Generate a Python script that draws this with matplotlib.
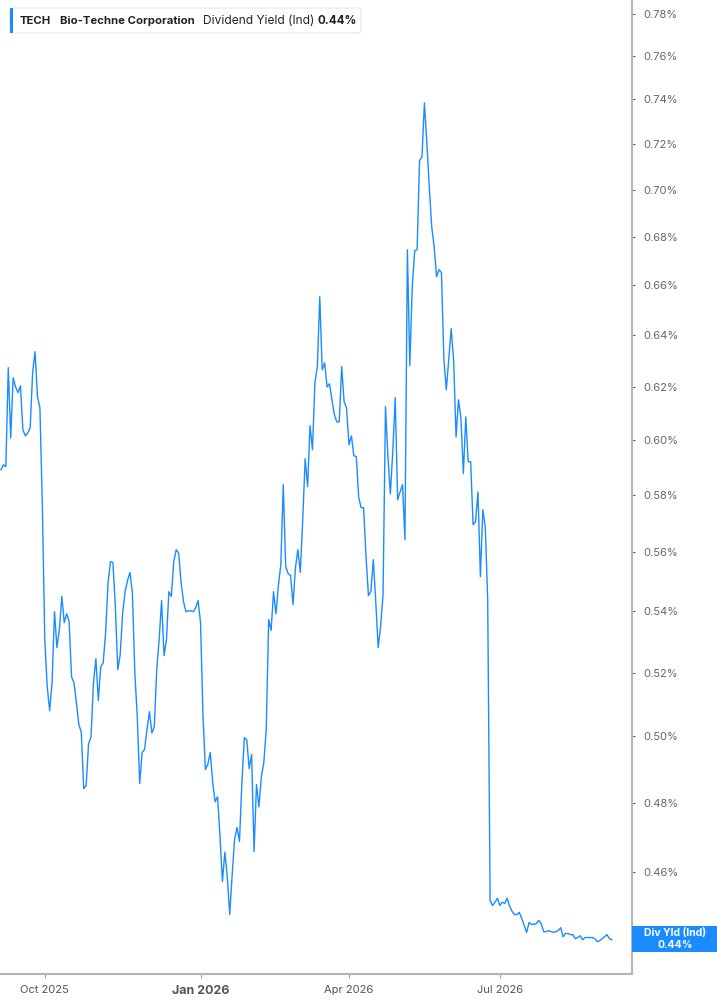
import numpy as np
import matplotlib.pyplot as plt
from matplotlib.patches import FancyBboxPatch, Rectangle

plt.rcParams['font.family'] = ['Inter', 'DejaVu Sans']

# dividend yield (%), one value per trading session, early Sep 2025 -> early Sep 2026
div_yield = [
    0.5892, 0.5910, 0.5903, 0.6274, 0.6009, 0.6235, 0.6200, 0.6178, 0.6204, 0.6039,
    0.6016, 0.6027, 0.6046, 0.6254, 0.6336, 0.6163, 0.6121, 0.5766, 0.5307, 0.5156,
    0.5080, 0.5168, 0.5399, 0.5281, 0.5340, 0.5450, 0.5363, 0.5392, 0.5366, 0.5187,
    0.5168, 0.5105, 0.5036, 0.5014, 0.4842, 0.4851, 0.4978, 0.4999, 0.5168, 0.5245,
    0.5112, 0.5219, 0.5232, 0.5330, 0.5497, 0.5568, 0.5565, 0.5416, 0.5210, 0.5259,
    0.5395, 0.5466, 0.5504, 0.5531, 0.5463, 0.5200, 0.5062, 0.4857, 0.4951, 0.4960,
    0.5021, 0.5077, 0.5011, 0.5030, 0.5210, 0.5307, 0.5436, 0.5255, 0.5307, 0.5466,
    0.5450, 0.5568, 0.5609, 0.5598, 0.5497, 0.5433, 0.5399, 0.5402, 0.5402, 0.5399,
    0.5412, 0.5436, 0.5363, 0.5068, 0.4899, 0.4915, 0.4951, 0.4860, 0.4803, 0.4818,
    0.4702, 0.4573, 0.4656, 0.4586, 0.4481, 0.4592, 0.4693, 0.4728, 0.4687, 0.4860,
    0.4996, 0.4990, 0.4902, 0.4945, 0.4658, 0.4854, 0.4788, 0.4878, 0.4920, 0.5021,
    0.5373, 0.5337, 0.5466, 0.5392, 0.5487, 0.5558, 0.5838, 0.5551, 0.5527, 0.5521,
    0.5423, 0.5548, 0.5609, 0.5531, 0.5714, 0.5932, 0.5831, 0.6054, 0.5965, 0.6216,
    0.6278, 0.6554, 0.6266, 0.6293, 0.6200, 0.6212, 0.6151, 0.6095, 0.6068, 0.6068,
    0.6278, 0.6144, 0.6121, 0.5983, 0.6016, 0.5943, 0.5940, 0.5791, 0.5756, 0.5756,
    0.5585, 0.5453, 0.5466, 0.5575, 0.5433, 0.5281, 0.5350, 0.5456, 0.6125, 0.5940,
    0.5805, 0.5958, 0.6159, 0.5784, 0.5812, 0.5838, 0.5644, 0.6746, 0.6282, 0.6594,
    0.6742, 0.6746, 0.7126, 0.7144, 0.7384, 0.7205, 0.7012, 0.6842, 0.6759, 0.6635,
    0.6664, 0.6652, 0.6305, 0.6189, 0.6305, 0.6426, 0.6305, 0.6012, 0.6151, 0.6083,
    0.5878, 0.6087, 0.5921, 0.5921, 0.5696, 0.5707, 0.5812, 0.5517, 0.5749, 0.5690,
    0.5440, 0.4520, 0.4506, 0.4515, 0.4526, 0.4506, 0.4515, 0.4512, 0.4526, 0.4504,
    0.4490, 0.4481, 0.4481, 0.4487, 0.4470, 0.4451, 0.4432, 0.4459, 0.4454, 0.4454,
    0.4456, 0.4465, 0.4456, 0.4434, 0.4434, 0.4437, 0.4434, 0.4432, 0.4434, 0.4437,
    0.4445, 0.4420, 0.4429, 0.4429, 0.4426, 0.4426, 0.4415, 0.4418, 0.4423, 0.4412,
    0.4418, 0.4418, 0.4418, 0.4418, 0.4415, 0.4407, 0.4409, 0.4415, 0.4420, 0.4426,
    0.4415, 0.4412,
]

# session index of the first trading day of each labelled month
month_pos = [18, 82, 143, 205]
month_lab = ['Oct 2025', 'Jan 2026', 'Apr 2026', 'Jul 2026']

y_ticks = [0.46, 0.48, 0.50, 0.52, 0.54, 0.56, 0.58, 0.60, 0.62, 0.64,
           0.66, 0.68, 0.70, 0.72, 0.74, 0.76, 0.78]

ticker = 'TECH'
company = 'Bio-Techne Corporation'
metric = 'Dividend Yield (Ind)'
last_val = '0.44%'

W, H = 717, 1005
blue = '#1a8cff'
grey_axis = '#b4b4b4'

fig = plt.figure(figsize=(W / 100, H / 100), dpi=100)
ax = fig.add_axes([0, 31 / H, 632 / W, 974 / H])

x = np.arange(len(div_yield))
ax.plot(x, div_yield, color=blue, lw=1.0)

ax.set_yscale('log')
ax.set_ylim(0.4320, 0.7867)
ax.set_xlim(-0.4, 259.3)

ax.yaxis.tick_right()
ax.set_yticks(y_ticks)
ax.set_yticklabels(['%.2f%%' % v for v in y_ticks])
ax.yaxis.set_minor_locator(plt.NullLocator())
ax.tick_params(axis='y', length=2.5, width=0.8, color='#666666', pad=6,
               labelsize=8, labelcolor='#666666')

ax.set_xticks(month_pos)
ax.set_xticklabels(month_lab)
ax.tick_params(axis='x', length=3, width=0.8, color='#999999', pad=5,
               labelsize=8, labelcolor='#555555')
for t in ax.get_xticklabels():
    if t.get_text().startswith('Jan'):
        t.set_fontweight('bold')
        t.set_fontsize(9)

for s in ['left', 'top']:
    ax.spines[s].set_visible(False)
for s in ['right', 'bottom']:
    ax.spines[s].set_color(grey_axis)
    ax.spines[s].set_linewidth(1.5)


def fx(px):
    return px / W


def fy(py):
    return 1 - py / H


# header box
fig.add_artist(FancyBboxPatch((fx(10), fy(33)), fx(351), 25 / H,
                              boxstyle='round,pad=0,rounding_size=0.004',
                              transform=fig.transFigure, fc='white',
                              ec='#e6e6e6', lw=0.8))
fig.add_artist(Rectangle((fx(10), fy(33)), fx(3), 25 / H,
                         transform=fig.transFigure, fc=blue, ec='none'))
ty = fy(20.5)
fig.text(fx(20), ty, ticker, fontsize=8.2, fontweight='bold', color='#222222', va='center')
fig.text(fx(60), ty, company, fontsize=8.2, fontweight='bold', color='#222222', va='center')
fig.text(fx(203), ty, metric, fontsize=8.6, color='#222222', va='center')
fig.text(fx(318), ty, last_val, fontsize=8.4, fontweight='bold', color='#222222', va='center')

# last value tag on the axis
fig.add_artist(Rectangle((fx(632), fy(952)), fx(85), 26 / H,
                         transform=fig.transFigure, fc=blue, ec='none'))
fig.text(fx(675), fy(933), 'Div Yld (Ind)', fontsize=7.5, fontweight='bold',
         color='white', ha='center', va='center')
fig.text(fx(675), fy(945), last_val, fontsize=7.5, fontweight='bold',
         color='white', ha='center', va='center')

fig.savefig('out.png', dpi=100)
